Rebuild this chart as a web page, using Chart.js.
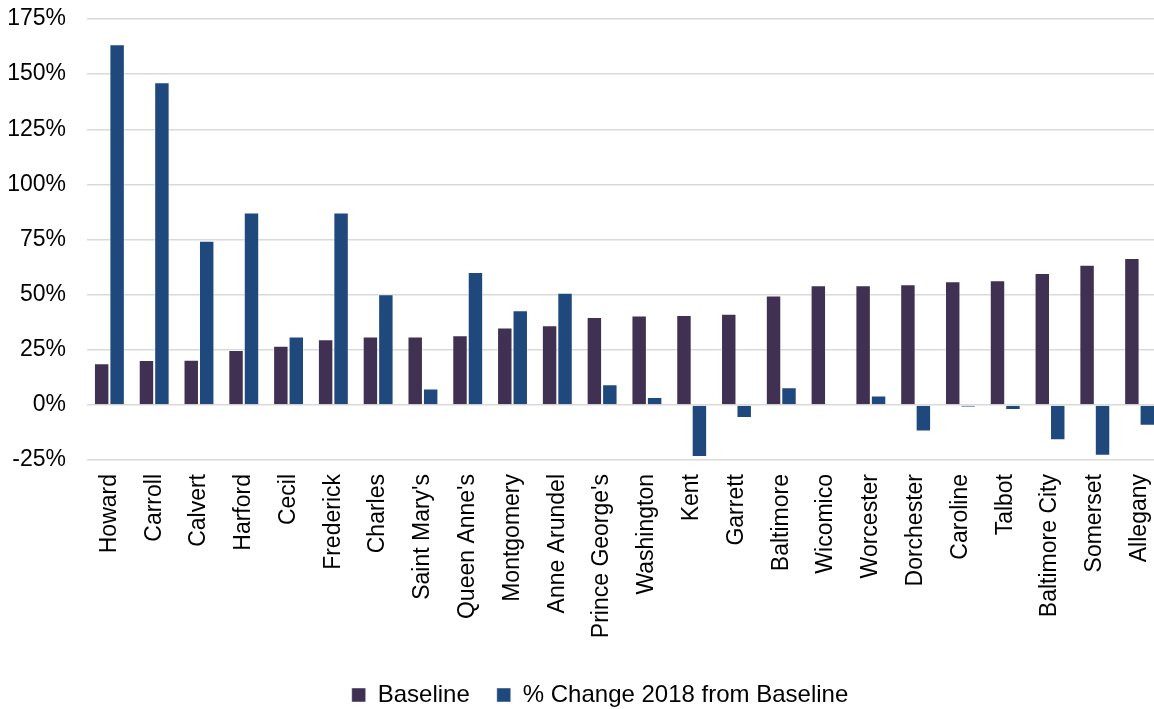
<!DOCTYPE html>
<html>
<head>
<meta charset="utf-8">
<script src="https://cdn.jsdelivr.net/npm/chart.js@4.4.1/dist/chart.umd.min.js"></script>
<style>
    html, body { margin: 0; padding: 0; background: #fff; overflow: hidden; }
    #wrap { width: 1190px; height: 717px; }
</style>
</head>
<body>
<div id="wrap"><canvas id="chart" width="1190" height="717"></canvas></div>
<script>
// Counties, ordered as in the source chart
const counties = ['Howard', 'Carroll', 'Calvert', 'Harford', 'Cecil', 'Frederick', 'Charles', "Saint Mary's",
    "Queen Anne's", 'Montgomery', 'Anne Arundel', "Prince George's", 'Washington', 'Kent', 'Garrett',
    'Baltimore', 'Wicomico', 'Worcester', 'Dorchester', 'Caroline', 'Talbot', 'Baltimore City', 'Somerset', 'Allegany'];

// values in percent
const baseline = [18.9, 20.4, 20.5, 24.9, 26.8, 29.8, 31.0, 31.0, 31.6, 35.1, 36.1, 39.8,
    40.5, 40.8, 41.3, 49.6, 54.3, 54.3, 54.7, 56.1, 56.5, 59.8, 63.5, 66.6];
const change2018 = [163.5, 146.3, 74.4, 87.2, 31.0, 87.2, 50.2, 7.4, 60.3, 42.9, 50.8, 9.4,
    3.6, -23.6, -5.9, 8.0, -0.5, 4.2, -12.1, -1.2, -2.3, -16.0, -23.1, -9.5];

const yMin = -25;
const yMax = 175;
const yStep = 25;

const font = "'Liberation Sans', Arial, sans-serif";

// the source legend sits a little right of the plot's centre
const legendShift = {
    id: 'legendShift',
    afterLayout(chart) {
        chart.legend.left += 19;
        chart.legend.right += 19;
    }
};

document.addEventListener('DOMContentLoaded', () => {
    const ctx = document.getElementById('chart').getContext('2d');
    new Chart(ctx, {
        type: 'bar',
        data: {
            labels: counties,
            datasets: [{
                label: 'Baseline',
                data: baseline,
                backgroundColor: '#403152',
                borderColor: 'rgba(255,255,255,0.45)',
                borderWidth: 1,
                categoryPercentage: 0.69,
                barPercentage: 1
            }, {
                label: '% Change 2018 from Baseline',
                data: change2018,
                backgroundColor: '#1F497D',
                borderColor: 'rgba(255,255,255,0.45)',
                borderWidth: 1,
                categoryPercentage: 0.69,
                barPercentage: 1
            }]
        },
        plugins: [legendShift],
        options: {
            responsive: false,
            animation: false,
            // plot runs slightly past the right edge, as in the source
            layout: { padding: { left: 0, right: 28, top: 19, bottom: 0 } },
            plugins: {
                legend: {
                    position: 'bottom',
                    labels: {
                        font: { family: font, size: 24 },
                        color: '#000',
                        boxWidth: 14,
                        boxHeight: 14,
                        padding: 27
                    }
                },
                tooltip: { enabled: false }
            },
            scales: {
                x: {
                    grid: { display: false },
                    border: { display: false },
                    ticks: {
                        font: { family: font, size: 23 },
                        color: '#000',
                        minRotation: 90,
                        maxRotation: 90,
                        autoSkip: false,
                        padding: 6
                    },
                    afterFit: (scale) => { scale.height = 196; }
                },
                y: {
                    min: yMin,
                    max: yMax,
                    grid: { color: '#d9d9d9', lineWidth: 1.5, drawTicks: false },
                    border: { display: false },
                    ticks: {
                        stepSize: yStep,
                        font: { family: font, size: 23 },
                        color: '#000',
                        padding: 21,
                        callback: (v) => v + '%'
                    },
                    afterFit: (scale) => {
                        scale.width = 87;
                        scale.paddingTop = 0;
                        scale.paddingBottom = 0;
                    }
                }
            }
        }
    });
});
</script>
</body>
</html>
